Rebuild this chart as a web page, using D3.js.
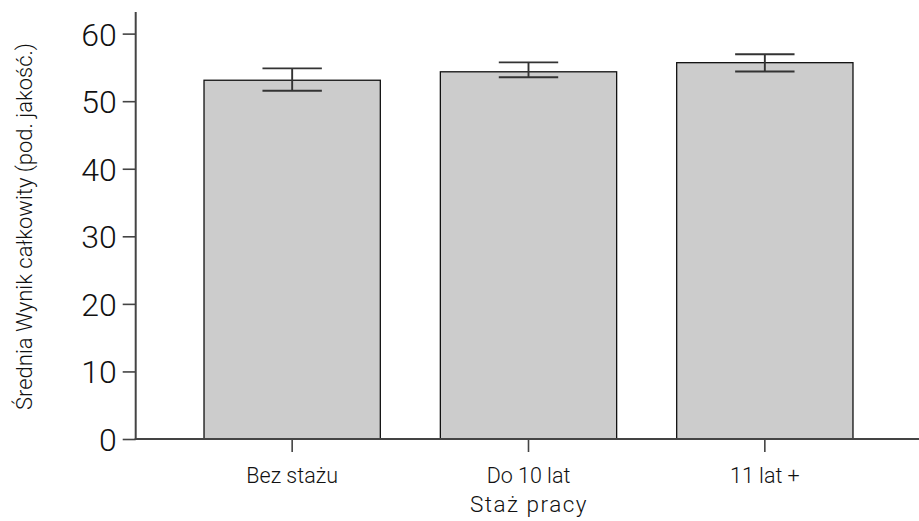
<!DOCTYPE html>
<html>
<head>
<meta charset="utf-8">
<script src="https://cdn.jsdelivr.net/npm/d3@7/dist/d3.min.js"></script>
<style>
  html, body { margin: 0; padding: 0; background: #fff; }
  svg { display: block; font-family: Roboto, "Liberation Sans", Arial, sans-serif; font-weight: 300; }
</style>
</head>
<body>
<svg id="chart" width="919" height="521"></svg>
<script>
// Mean total score by work experience group, with error bar ends
const categories = ["Bez stażu", "Do 10 lat", "11 lat +"];
const means = [53.1, 54.35, 55.7];
const errLow = [51.55, 53.55, 54.4];
const errHigh = [54.85, 55.75, 56.95];
const yTicks = [0, 10, 20, 30, 40, 50, 60];

const svg = d3.select("#chart");
const plotLeft = 135.7, plotRight = 919, plotTop = 12, plotBottom = 439;

const y = d3.scaleLinear().domain([0, 63.2]).range([plotBottom, plotTop]);
const x = d3.scaleBand().domain(categories).range([174, 883])
  .paddingInner(0.254).paddingOuter(0.127);

const axisColor = "#444";
const textColor = "#111";

// Bars
svg.append("g").selectAll("rect").data(categories).join("rect")
  .attr("x", d => x(d))
  .attr("y", (d, i) => y(means[i]))
  .attr("width", x.bandwidth())
  .attr("height", (d, i) => y(0) - y(means[i]))
  .attr("fill", "#cccccc")
  .attr("stroke", "#111")
  .attr("stroke-width", 1.3);

// Error bars
const cap = 29.7;
const eb = svg.append("g").attr("stroke", "#333").attr("stroke-width", 1.9);
categories.forEach((c, i) => {
  const cx = x(c) + x.bandwidth() / 2;
  eb.append("line").attr("x1", cx).attr("x2", cx).attr("y1", y(errHigh[i])).attr("y2", y(errLow[i]));
  eb.append("line").attr("x1", cx - cap).attr("x2", cx + cap).attr("y1", y(errHigh[i])).attr("y2", y(errHigh[i]));
  eb.append("line").attr("x1", cx - cap).attr("x2", cx + cap).attr("y1", y(errLow[i])).attr("y2", y(errLow[i]));
});

// Y axis
const yAxis = svg.append("g").attr("transform", `translate(${plotLeft},0)`)
  .call(d3.axisLeft(y).tickValues(yTicks).tickSize(13).tickPadding(6).tickSizeOuter(0));
yAxis.select(".domain").remove();
yAxis.append("line").attr("x1", 0).attr("x2", 0).attr("y1", plotTop).attr("y2", plotBottom + 1)
  .attr("stroke", axisColor).attr("stroke-width", 2);
yAxis.selectAll(".tick line").attr("stroke", axisColor).attr("stroke-width", 1.6);
yAxis.selectAll(".tick text").attr("fill", textColor).attr("font-size", 32)
  .attr("dy", "0.36em");

// X axis
const xAxis = svg.append("g").attr("transform", `translate(0,${plotBottom})`)
  .call(d3.axisBottom(x).tickSize(13).tickPadding(10).tickSizeOuter(0));
xAxis.select(".domain").remove();
xAxis.append("line").attr("x1", plotLeft - 1).attr("x2", plotRight).attr("y1", 0).attr("y2", 0)
  .attr("stroke", axisColor).attr("stroke-width", 2);
xAxis.selectAll(".tick line").attr("stroke", axisColor).attr("stroke-width", 1.6);
xAxis.selectAll(".tick text").attr("fill", textColor).attr("font-size", 21.5)
  .attr("dy", null).attr("y", 43.7);
// let the axis text inherit the page font rather than the axis default
yAxis.attr("font-family", null);
xAxis.attr("font-family", null);

// Axis titles
svg.append("text").attr("x", 529).attr("y", 511.7)
  .attr("text-anchor", "middle").attr("font-size", 22.5).attr("letter-spacing", 1.5)
  .attr("fill", textColor)
  .text("Staż pracy");
svg.append("text").attr("transform", "translate(31.5,226.5) rotate(-90)")
  .attr("text-anchor", "middle").attr("font-size", 22).attr("fill", textColor)
  .text("Średnia Wynik całkowity (pod. jakość.)");
</script>
</body>
</html>
